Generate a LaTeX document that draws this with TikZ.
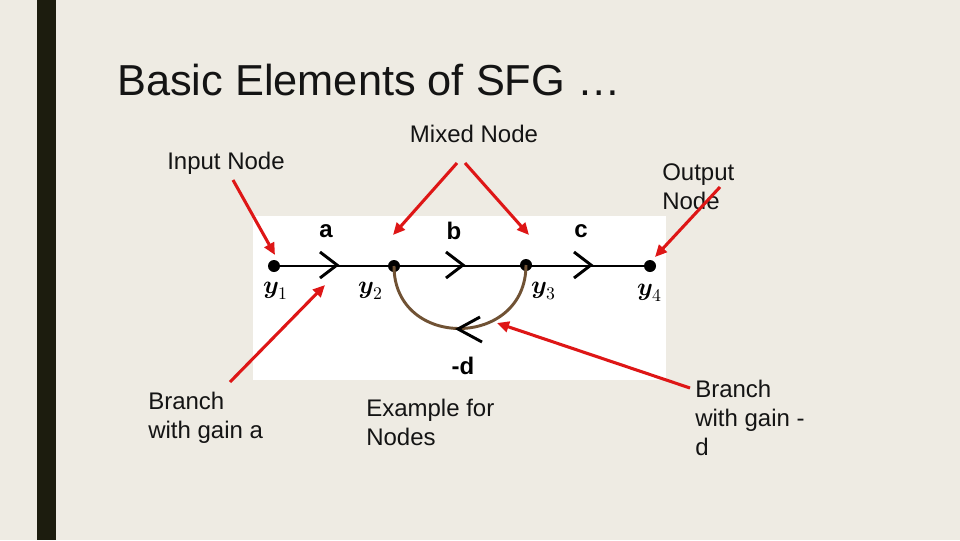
\documentclass[tikz,border=0pt]{standalone}
\usepackage{fontspec}
\setmainfont{Liberation Sans}
\usepackage{unicode-math}
\setmathfont{Latin Modern Math}
\usetikzlibrary{arrows.meta}
\definecolor{bgc}{RGB}{238,235,227}
\definecolor{barc}{RGB}{28,28,14}
\definecolor{txt}{RGB}{20,20,20}
\definecolor{redc}{RGB}{222,22,22}
\definecolor{brownc}{RGB}{112,82,52}
\begin{document}
\begin{tikzpicture}[x=0.75pt,y=-0.75pt,
  lbl/.style={font=\fontsize{18}{21.75}\selectfont, text=txt, inner sep=0pt, align=left},
  gain/.style={font=\fontsize{18}{20}\selectfont\bfseries, text=black, inner sep=0pt},
  ylab/.style={font=\fontsize{19}{21}\selectfont, text=black, inner sep=0pt},
  sfgnode/.style={circle, fill=black, minimum size=9pt, inner sep=0pt},
  chev/.style={line width=2.2pt, black},
  redarrow/.style={line width=2.3pt, redc, -{Triangle[length=9pt,width=8pt]}}
]
\useasboundingbox (0,0) rectangle (960,540);
\fill[bgc] (0,0) rectangle (960,540);
\fill[barc] (37,0) rectangle (56,540);
% title
\node[anchor=base west, inner sep=0pt, text=txt, font=\fontsize{32.5}{36}\selectfont] (title) at (117,95) {Basic Elements of SFG …};
% graph image area
\fill[white] (253,216) rectangle (666,380);
% nodes
\node[sfgnode] (y1) at (274,266) {};
\node[sfgnode] (y2) at (394,266) {};
\node[sfgnode] (y3) at (526,265) {};
\node[sfgnode] (y4) at (650,266) {};
\draw[line width=2.2pt] (y1.center) -- (y4.center);
% chevrons
\draw[chev] (320,252) -- (337,265) -- (320,278);
\draw[chev] (446,252) -- (463,265) -- (446,278);
\draw[chev] (574,252) -- (591,265) -- (574,278);
% feedback arc
\draw[line width=2.2pt, brownc] (y2.center) .. controls +(0,84) and +(0,84) .. (y3.center);
\draw[chev] (480,317) -- (458,329) -- (482,342);
% labels in graph
\node[gain] (la) at (326,231) {a};
\node[gain] (lb) at (454,231) {b};
\node[gain] (lc) at (581,231) {c};
\node[gain] (ld) at (463,366) {-d};
\node[ylab] (ly1) at (276,291) {$\symbfit{y}_1$};
\node[ylab] (ly2) at (371,291) {$\symbfit{y}_2$};
\node[ylab] (ly3) at (544,291) {$\symbfit{y}_3$};
\node[ylab] (ly4) at (650,293) {$\symbfit{y}_4$};
% annotation texts (base = baseline of last line)
\node[lbl, anchor=base] (mixed) at (474,142) {Mixed Node};
\node[lbl, anchor=base] (input) at (226,169) {Input Node};
\node[lbl, anchor=base west] (output) at (662,209) {Output\\Node};
\node[lbl, anchor=base west] (bra) at (148,438) {Branch\\with gain a};
\node[lbl, anchor=base west] (example) at (366,445) {Example for\\Nodes};
\node[lbl, anchor=base west] (brd) at (695,455) {Branch\\with gain -\\d};
% red arrows
\coordinate (inS) at (233,180);
\coordinate (inE) at (275,255);
\draw[redarrow] (inS) -- (inE);
\coordinate (mxS1) at (457,163);
\coordinate (mxE1) at (393,235);
\draw[redarrow] (mxS1) -- (mxE1);
\coordinate (mxS2) at (465,163);
\coordinate (mxE2) at (529,235);
\draw[redarrow] (mxS2) -- (mxE2);
\coordinate (outS) at (720,187);
\coordinate (outE) at (655,257);
\draw[redarrow] (outS) -- (outE);
\coordinate (baS) at (230,382);
\coordinate (baE) at (325,285);
\draw[redarrow] (baS) -- (baE);
\coordinate (bdS) at (690,388);
\coordinate (bdE) at (497,323);
\draw[redarrow] (bdS) -- (bdE);
\end{tikzpicture}
\end{document}
